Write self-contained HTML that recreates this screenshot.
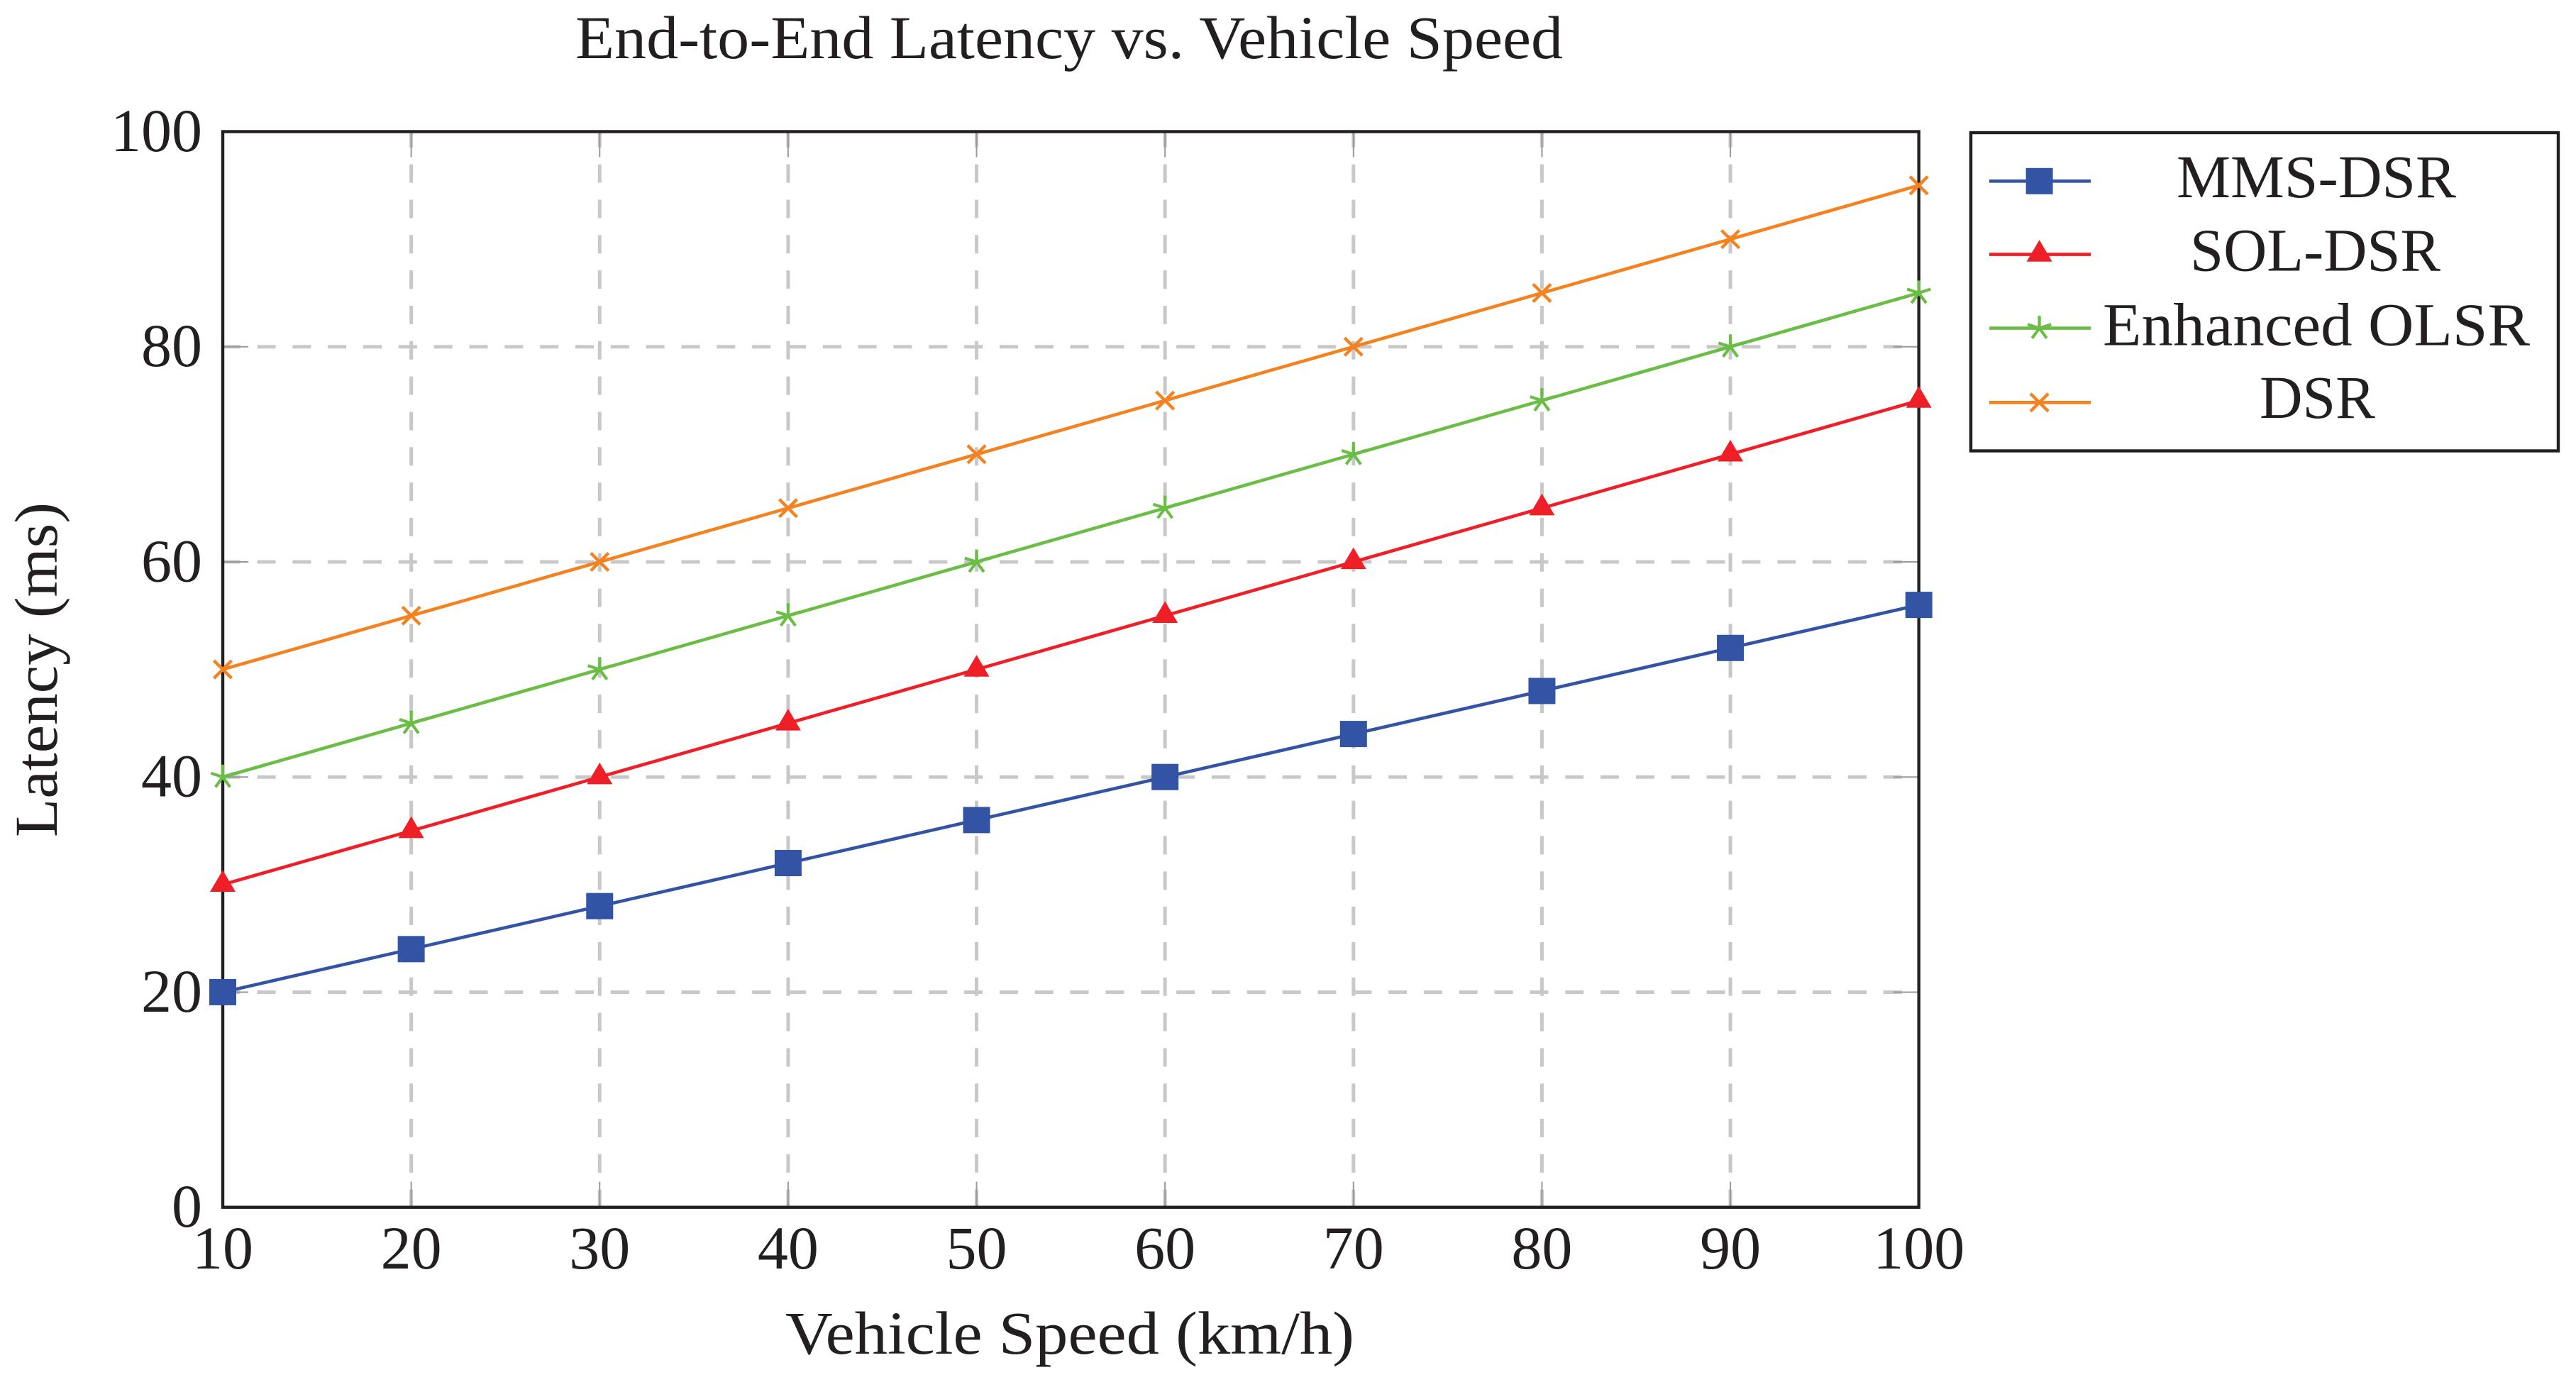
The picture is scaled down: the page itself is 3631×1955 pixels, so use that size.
<!DOCTYPE html>
<html lang="en">
<head>
<meta charset="utf-8">
<title>End-to-End Latency vs. Vehicle Speed</title>
<style>
  html, body { margin: 0; padding: 0; background: #fff; }
  svg { display: block; }
  text { font-family: "Liberation Serif", serif; font-size: 86px; fill: #231f20; }
</style>
</head>
<body>
<svg id="chart" xmlns="http://www.w3.org/2000/svg" width="3631" height="1955" viewBox="0 0 3631 1955">
  <rect x="0" y="0" width="3631" height="1955" fill="#ffffff"/>
  <text x="811" y="82" textLength="1392" lengthAdjust="spacingAndGlyphs">End-to-End Latency vs. Vehicle Speed</text>
  <text x="1107" y="1908" textLength="802" lengthAdjust="spacingAndGlyphs">Vehicle Speed (km/h)</text>
  <text transform="translate(80 1180) rotate(-90)" x="0" y="0" textLength="472" lengthAdjust="spacingAndGlyphs">Latency (ms)</text>
  <g id="grid"></g>
  <g id="ticks"></g>
  <g id="tick-labels"></g>
  <rect x="314" y="185.5" width="2390.7" height="1516.2" fill="none" stroke="#231f20" stroke-width="4.4"/>
  <g id="series"></g>
  <g id="legend">
    <rect x="2778" y="187" width="828" height="448.5" fill="#ffffff" stroke="#231f20" stroke-width="4.4"/>
    <text x="3068" y="278" textLength="394" lengthAdjust="spacingAndGlyphs">MMS-DSR</text>
    <text x="3087" y="381.4" textLength="353" lengthAdjust="spacingAndGlyphs">SOL-DSR</text>
    <text x="2964" y="486.4" textLength="602" lengthAdjust="spacingAndGlyphs">Enhanced OLSR</text>
    <text x="3185" y="589" textLength="163" lengthAdjust="spacingAndGlyphs">DSR</text>
  </g>
</svg>
<script>
// Chart data
const speeds = [10, 20, 30, 40, 50, 60, 70, 80, 90, 100];
const mmsDsr = [20, 24, 28, 32, 36, 40, 44, 48, 52, 56];
const solDsr = [30, 35, 40, 45, 50, 55, 60, 65, 70, 75];
const enhancedOlsr = [40, 45, 50, 55, 60, 65, 70, 75, 80, 85];
const dsr = [50, 55, 60, 65, 70, 75, 80, 85, 90, 95];
const xTickValues = [10, 20, 30, 40, 50, 60, 70, 80, 90, 100];
const yTickValues = [0, 20, 40, 60, 80, 100];

const SVG_NS = 'http://www.w3.org/2000/svg';
const plotLeft = 314, plotRight = 2704.7, plotTop = 185.5, plotBottom = 1701.7;
const xMin = 10, xMax = 100, yMin = 0, yMax = 100;
const tickLength = 36;

function xScale(v) { return plotLeft + (v - xMin) / (xMax - xMin) * (plotRight - plotLeft); }
function yScale(v) { return plotBottom - (v - yMin) / (yMax - yMin) * (plotBottom - plotTop); }

function make(tag, parent, attrs) {
  const el = document.createElementNS(SVG_NS, tag);
  for (const k in attrs) el.setAttribute(k, attrs[k]);
  parent.appendChild(el);
  return el;
}

const gridG = document.getElementById('grid');
const ticksG = document.getElementById('ticks');
const labelsG = document.getElementById('tick-labels');
const seriesG = document.getElementById('series');
const legendG = document.getElementById('legend');

// Grid and ticks
xTickValues.forEach(function (v) {
  const x = xScale(v);
  if (v !== xMin && v !== xMax) {
    const g = make('line', gridG, { x1: x, x2: x, y1: plotBottom + 1, y2: plotTop, stroke: '#c8c8c8', 'stroke-width': 5, 'stroke-dasharray': '26 23.83' });
    
    
    const t1 = make('line', ticksG, { x1: x, x2: x, y1: plotBottom, y2: plotBottom - tickLength, stroke: '#999999', 'stroke-width': 2 });
    
    
    const t2 = make('line', ticksG, { x1: x, x2: x, y1: plotTop, y2: plotTop + tickLength, stroke: '#999999', 'stroke-width': 2 });
    
    
  }
  const lab = make('text', labelsG, { x: x, y: 1788, 'text-anchor': 'middle' });
  lab.textContent = String(v);
  
  
});

yTickValues.forEach(function (v) {
  const y = yScale(v);
  if (v !== yMin && v !== yMax) {
    const g = make('line', gridG, { x1: plotLeft - 1.3, x2: plotRight, y1: y, y2: y, stroke: '#c8c8c8', 'stroke-width': 5, 'stroke-dasharray': '26 23.83' });
    
    
    const t1 = make('line', ticksG, { x1: plotLeft, x2: plotLeft + tickLength, y1: y, y2: y, stroke: '#999999', 'stroke-width': 2 });
    
    
    const t2 = make('line', ticksG, { x1: plotRight, x2: plotRight - tickLength, y1: y, y2: y, stroke: '#999999', 'stroke-width': 2 });
    
    
  }
  const lab = make('text', labelsG, { x: 285, y: y + 27.5, 'text-anchor': 'end' });
  lab.textContent = String(v);
  
  
});

// Marker shapes
function drawSquare(parent, x, y, color) {
  return make('rect', parent, { x: x - 19, y: y - 18.5, width: 38, height: 37, fill: color });
}
function drawTriangle(parent, x, y, color) {
  return make('polygon', parent, { points: (x) + ',' + (y - 20.4) + ' ' + (x - 18) + ',' + (y + 10.2) + ' ' + (x + 18) + ',' + (y + 10.2), fill: color });
}
function drawStar(parent, x, y, color) {
  let d = '';
  const r = 17.5;
  for (let k = 0; k < 5; k++) {
    const a = (90 + 72 * k) * Math.PI / 180;
    d += 'M' + x + ' ' + y + 'L' + (x + r * Math.cos(a)) + ' ' + (y - r * Math.sin(a));
  }
  return make('path', parent, { d: d, fill: 'none', stroke: color, 'stroke-width': 4.2 });
}
function drawCross(parent, x, y, color) {
  const r = 12.5;
  const d = 'M' + (x - r) + ' ' + (y - r) + 'L' + (x + r) + ' ' + (y + r) + 'M' + (x - r) + ' ' + (y + r) + 'L' + (x + r) + ' ' + (y - r);
  return make('path', parent, { d: d, fill: 'none', stroke: color, 'stroke-width': 4.4 });
}

// Series lines and marks
function drawSeries(values, color, marker) {
  const g = make('g', seriesG, {});
  const pts = speeds.map(function (s, i) { return xScale(s) + ',' + yScale(values[i]); }).join(' ');
  const line = make('polyline', g, { points: pts, fill: 'none', stroke: color, 'stroke-width': 4.6, 'stroke-linejoin': 'round' });
  speeds.forEach(function (s, i) {
    marker(g, xScale(s), yScale(values[i]), color);
  });
  return { g: g, line: line };
}

const sMms = drawSeries(mmsDsr, '#3353a4', drawSquare);


const sSol = drawSeries(solDsr, '#ef1f27', drawTriangle);


const sOlsr = drawSeries(enhancedOlsr, '#6abd45', drawStar);


const sDsr = drawSeries(dsr, '#f58220', drawCross);



// Legend samples
function drawLegendSample(rowY, color, marker) {
  const g = make('g', legendG, {});
  make('line', g, { x1: 2804, x2: 2947, y1: rowY, y2: rowY, stroke: color, 'stroke-width': 4.6 });
  marker(g, 2874.6, rowY, color);
  return g;
}
const lMms = drawLegendSample(255.3, '#3353a4', drawSquare);


const lSol = drawLegendSample(358.6, '#ef1f27', drawTriangle);


const lOlsr = drawLegendSample(462.6, '#6abd45', drawStar);


const lDsr = drawLegendSample(567.3, '#f58220', drawCross);


</script>
</body>
</html>
